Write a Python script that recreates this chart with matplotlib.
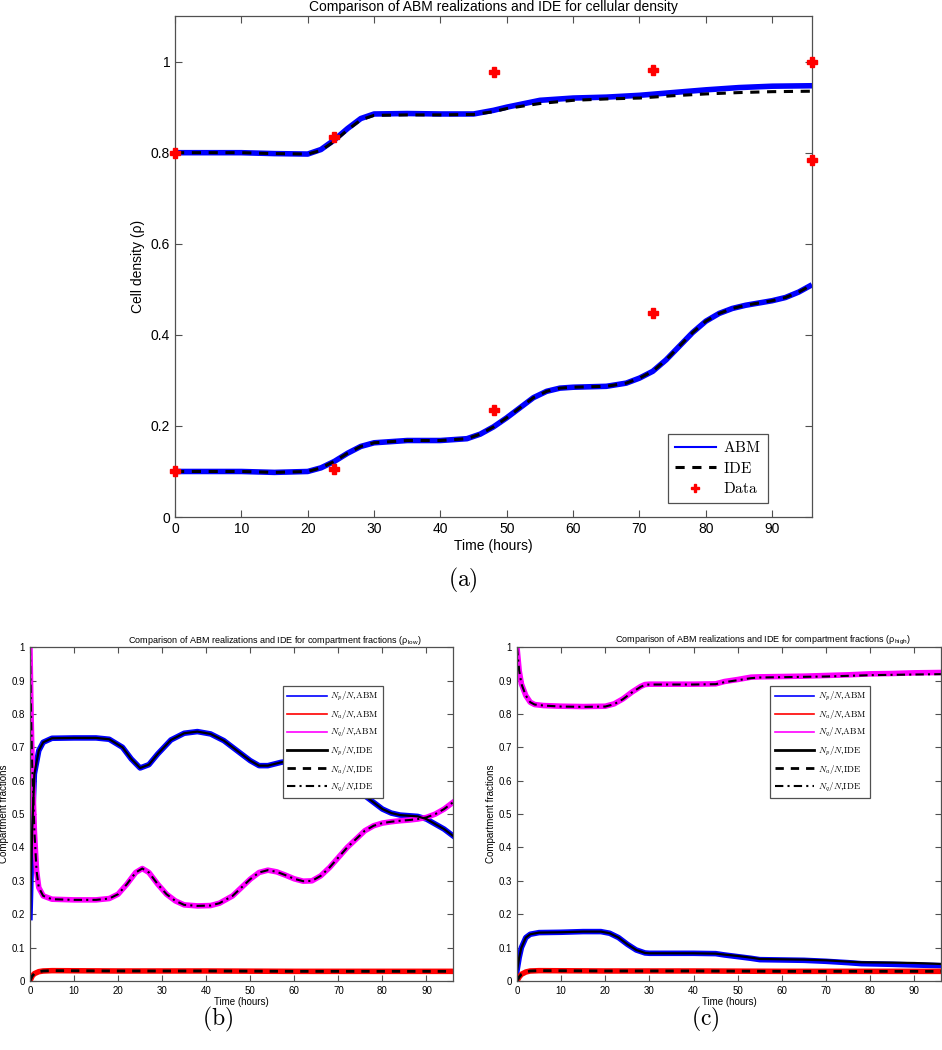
import matplotlib
matplotlib.use("Agg")
import matplotlib.pyplot as plt
from matplotlib.lines import Line2D

plt.rcParams['font.family'] = ['Liberation Sans', 'DejaVu Sans']
plt.rcParams['mathtext.fontset'] = 'cm'

# --- (a) cellular density ---
t_high = [0, 5, 10, 15, 20, 22, 24, 26, 28, 30, 35, 40, 45, 48, 50, 55, 60, 65, 70, 75, 80, 85, 90, 96]
high_abm = [0.80, 0.80, 0.80, 0.798, 0.797, 0.807, 0.828, 0.853, 0.875, 0.885, 0.886, 0.885, 0.885,
            0.893, 0.90, 0.915, 0.92, 0.922, 0.926, 0.932, 0.938, 0.943, 0.946, 0.947]
high_ide = [0.80, 0.80, 0.80, 0.798, 0.797, 0.805, 0.825, 0.85, 0.872, 0.882, 0.883, 0.883, 0.884,
            0.89, 0.897, 0.908, 0.915, 0.918, 0.92, 0.925, 0.929, 0.932, 0.934, 0.935]

t_low = [0, 5, 10, 15, 20, 22, 24, 26, 28, 30, 35, 40, 44, 46, 48, 50, 52, 54, 56, 58, 60, 65, 68,
         70, 72, 74, 76, 78, 80, 82, 84, 86, 88, 90, 92, 94, 96]
low_abm = [0.10, 0.10, 0.10, 0.098, 0.10, 0.108, 0.122, 0.14, 0.155, 0.163, 0.168, 0.168, 0.172,
           0.182, 0.198, 0.218, 0.24, 0.262, 0.276, 0.283, 0.285, 0.287, 0.294, 0.305, 0.32, 0.345,
           0.375, 0.405, 0.43, 0.447, 0.458, 0.465, 0.47, 0.475, 0.482, 0.494, 0.51]
low_ide = low_abm

data_t = [0, 0, 24, 24, 48, 48, 72, 72, 96, 96]
data_rho = [0.8, 0.1, 0.835, 0.105, 0.977, 0.235, 0.982, 0.448, 1.0, 0.785]

# --- (b) compartment fractions, rho_low ---
tb_p = [0, 0.5, 1, 2, 3, 5, 10, 15, 18, 21, 23, 25, 27, 29, 32, 35, 38, 41, 44, 47, 50, 52, 54,
        57, 60, 65, 68, 70, 72, 74, 76, 78, 80, 82, 84, 86, 88, 90, 92, 94, 96]
b_p = [0.19, 0.45, 0.62, 0.69, 0.715, 0.727, 0.728, 0.728, 0.724, 0.70, 0.665, 0.638, 0.648, 0.68,
       0.722, 0.742, 0.747, 0.74, 0.72, 0.69, 0.66, 0.645, 0.645, 0.655, 0.66, 0.665, 0.65, 0.63,
       0.60, 0.578, 0.555, 0.535, 0.515, 0.503, 0.497, 0.495, 0.493, 0.485, 0.47, 0.455, 0.435]

tb_q = [0, 0.25, 0.5, 1, 1.5, 2, 3, 5, 10, 15, 18, 20, 22, 24, 25.5, 27, 29, 31, 33, 35, 38, 41,
        43, 46, 48, 50, 52, 54, 56, 58, 60, 62, 64, 66, 68, 70, 72, 74, 76, 78, 80, 82, 84, 86, 88,
        90, 92, 94, 96]
b_q = [1.0, 0.8, 0.65, 0.45, 0.33, 0.28, 0.255, 0.245, 0.243, 0.243, 0.247, 0.26, 0.29, 0.325,
       0.337, 0.325, 0.29, 0.26, 0.24, 0.228, 0.225, 0.226, 0.233, 0.255, 0.28, 0.305, 0.325, 0.332,
       0.327, 0.317, 0.306, 0.299, 0.3, 0.315, 0.34, 0.37, 0.40, 0.425, 0.45, 0.465, 0.473, 0.477,
       0.48, 0.482, 0.485, 0.49, 0.50, 0.515, 0.535]

tb_a = [0, 0.5, 1, 2, 3, 5, 20, 40, 60, 80, 96]
b_a = [0.0, 0.015, 0.022, 0.028, 0.03, 0.031, 0.03, 0.03, 0.029, 0.029, 0.029]

# --- (c) compartment fractions, rho_high ---
tc_q = [0, 0.5, 1, 2, 3, 4, 6, 10, 15, 20, 22, 24, 26, 28, 29, 30, 35, 40, 45, 47, 50, 53, 55,
        60, 65, 70, 75, 80, 85, 90, 96]
c_q_abm = [1.0, 0.93, 0.89, 0.855, 0.835, 0.828, 0.825, 0.823, 0.822, 0.823, 0.83, 0.845, 0.865,
           0.882, 0.888, 0.889, 0.889, 0.889, 0.89, 0.897, 0.903, 0.91, 0.911, 0.912, 0.913, 0.915,
           0.917, 0.92, 0.921, 0.923, 0.924]
c_q_ide = [1.0, 0.93, 0.89, 0.855, 0.835, 0.828, 0.825, 0.822, 0.821, 0.822, 0.829, 0.844, 0.864,
           0.881, 0.887, 0.888, 0.888, 0.888, 0.889, 0.895, 0.901, 0.907, 0.909, 0.91, 0.911, 0.912,
           0.914, 0.916, 0.917, 0.918, 0.919]

tc_p = [0, 0.5, 1, 2, 3, 5, 10, 15, 19, 21, 23, 25, 27, 29, 30, 40, 45, 47, 50, 53, 55, 60, 65,
        70, 75, 78, 85, 90, 96]
c_p_abm = [0.03, 0.07, 0.10, 0.13, 0.14, 0.145, 0.146, 0.148, 0.148, 0.143, 0.13, 0.11, 0.093,
           0.084, 0.083, 0.083, 0.082, 0.078, 0.073, 0.068, 0.064, 0.063, 0.062, 0.059, 0.055,
           0.052, 0.05, 0.048, 0.046]
c_p_ide = [0.03, 0.07, 0.10, 0.13, 0.14, 0.145, 0.146, 0.148, 0.148, 0.143, 0.13, 0.11, 0.093,
           0.084, 0.083, 0.083, 0.082, 0.079, 0.075, 0.07, 0.066, 0.065, 0.064, 0.062, 0.058,
           0.056, 0.055, 0.054, 0.051]

tc_a = [0, 0.5, 1, 2, 3, 5, 20, 40, 60, 80, 96]
c_a = [0.0, 0.012, 0.02, 0.027, 0.03, 0.031, 0.03, 0.03, 0.029, 0.029, 0.029]

BLUE, RED, MAG = '#0000ff', '#ff0000', '#ff00ff'
SPINE = '#505050'


def style_axes(ax, fs, ticklen):
    ax.tick_params(direction='in', top=True, right=True, labelsize=fs, length=ticklen,
                   width=0.8, color=SPINE)
    for s in ax.spines.values():
        s.set_color(SPINE)
        s.set_linewidth(0.9)


fig = plt.figure(figsize=(9.42, 10.5), dpi=100)

# ---------- (a) ----------
ax = fig.add_axes([0.1858, 0.5076, 0.6762, 0.4771])
ax.plot(t_high, high_abm, color=BLUE, lw=4, solid_capstyle='butt')
ax.plot(t_low, low_abm, color=BLUE, lw=4, solid_capstyle='butt')
ax.plot(t_high, high_ide, color='k', lw=2.2, ls=(0, (3, 2.5)))
ax.plot(t_low, low_ide, color='k', lw=2.2, ls=(0, (3, 2.5)))
ax.plot(data_t, data_rho, 'P', color=RED, ms=7, mec=RED, clip_on=False, zorder=5)
ax.set_xlim(0, 96)
ax.set_ylim(0, 1.1)
ax.set_xticks(range(0, 100, 10))
ax.set_yticks([0, 0.2, 0.4, 0.6, 0.8, 1])
ax.set_yticklabels(['0', '0.2', '0.4', '0.6', '0.8', '1'])
style_axes(ax, 10, 5)
ax.set_title('Comparison of ABM realizations and IDE for cellular density', fontsize=10, pad=4)
ax.set_xlabel('Time (hours)', fontsize=10, labelpad=2)
ax.set_ylabel('Cell density (ρ)', fontsize=10)
handles = [Line2D([], [], color=BLUE, lw=1.5),
           Line2D([], [], color='k', lw=2.2, ls=(0, (3, 2.5))),
           Line2D([], [], color=RED, marker='P', ls='none', ms=6)]
leg = ax.legend(handles, [r'$\mathrm{ABM}$', r'$\mathrm{IDE}$', r'$\mathrm{Data}$'],
                loc='lower right', bbox_to_anchor=(0.931, 0.028), fontsize=11,
                fancybox=False, edgecolor=SPINE, framealpha=1, handlelength=2.7,
                borderpad=0.45, labelspacing=0.35, handletextpad=0.5, borderaxespad=0)
leg.get_frame().set_linewidth(0.9)
fig.text(0.4915, 0.447, r'$\mathrm{(a)}$', fontsize=17, ha='center', va='center')

# ---------- (b) and (c) ----------
labels = [r'$N_p/N$,$\mathrm{ABM}$', r'$N_a/N$,$\mathrm{ABM}$', r'$N_q/N$,$\mathrm{ABM}$',
          r'$N_p/N$,$\mathrm{IDE}$', r'$N_a/N$,$\mathrm{IDE}$', r'$N_q/N$,$\mathrm{IDE}$']
handles = [Line2D([], [], color=BLUE, lw=1.2), Line2D([], [], color=RED, lw=1.2),
           Line2D([], [], color=MAG, lw=1.2), Line2D([], [], color='k', lw=2),
           Line2D([], [], color='k', lw=2, ls=(0, (3, 2.5))),
           Line2D([], [], color='k', lw=1.5, ls=(0, (4, 2, 1, 2)))]

panels = [
    ([0.0318, 0.0657, 0.449, 0.318], 'low', tb_p, b_p, b_p, tb_a, b_a, b_a, tb_q, b_q, b_q, '(b)', 0.2314),
    ([0.5488, 0.0657, 0.4500, 0.318], 'high', tc_p, c_p_abm, c_p_ide, tc_a, c_a, c_a, tc_q, c_q_abm,
     c_q_ide, '(c)', 0.7484),
]
for rect, sub, tp, p_abm, p_ide, ta, a_abm, a_ide, tq, q_abm, q_ide, tag, xtag in panels:
    ax = fig.add_axes(rect)
    ax.plot(tp, p_abm, color=BLUE, lw=4)
    ax.plot(ta, a_abm, color=RED, lw=4)
    ax.plot(tq, q_abm, color=MAG, lw=4)
    ax.plot(tp, p_ide, color='k', lw=1.6)
    ax.plot(ta, a_ide, color='k', lw=2, ls=(0, (3, 2.5)))
    ax.plot(tq, q_ide, color='k', lw=1.5, ls=(0, (4, 2, 1, 2)))
    ax.set_xlim(0, 96)
    ax.set_ylim(0, 1)
    ax.set_xticks(range(0, 100, 10))
    ax.set_yticks([i / 10 for i in range(11)])
    ax.set_yticklabels(['0'] + ['0.%d' % i for i in range(1, 10)] + ['1'])
    style_axes(ax, 7, 4)
    ax.set_title(r'Comparison of ABM realizations and IDE for compartment fractions '
                 r'(ρ$_{\mathregular{%s}}$)' % sub, fontsize=6.5, x=0.58, pad=3)
    ax.set_xlabel('Time (hours)', fontsize=7, labelpad=1)
    ax.set_ylabel('Compartment fractions', fontsize=7, labelpad=2)
    leg = ax.legend(handles, labels, loc='upper left', bbox_to_anchor=(0.598, 0.883),
                    fontsize=6.5, fancybox=False, edgecolor=SPINE, framealpha=1,
                    handlelength=4.4, borderpad=0.45, labelspacing=0.55, handletextpad=0.4,
                    borderaxespad=0)
    leg.get_frame().set_linewidth(0.9)
    fig.text(xtag, 0.029, r'$\mathrm{%s}$' % tag, fontsize=17, ha='center', va='center')

fig.savefig('out.png', dpi=100)
